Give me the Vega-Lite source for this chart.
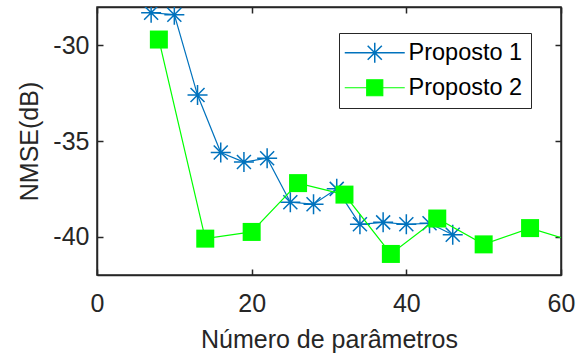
{
  "$schema": "https://vega.github.io/schema/vega-lite/v6.json",
  "width": 464,
  "height": 268,
  "autosize": "none",
  "padding": {"left": 97, "top": 7, "right": 21, "bottom": 81},
  "background": "white",
  "data": {
    "values": [
      {"series": "Proposto 1", "x": 7, "y": -28.3},
      {"series": "Proposto 1", "x": 10, "y": -28.4},
      {"series": "Proposto 1", "x": 13, "y": -32.6},
      {"series": "Proposto 1", "x": 16, "y": -35.6},
      {"series": "Proposto 1", "x": 19, "y": -36.1},
      {"series": "Proposto 1", "x": 22, "y": -35.9},
      {"series": "Proposto 1", "x": 25, "y": -38.2},
      {"series": "Proposto 1", "x": 28, "y": -38.3},
      {"series": "Proposto 1", "x": 31, "y": -37.5},
      {"series": "Proposto 1", "x": 34, "y": -39.35},
      {"series": "Proposto 1", "x": 37, "y": -39.25},
      {"series": "Proposto 1", "x": 40, "y": -39.35},
      {"series": "Proposto 1", "x": 43, "y": -39.3},
      {"series": "Proposto 1", "x": 46, "y": -39.9},
      {"series": "Proposto 2", "x": 8, "y": -29.7},
      {"series": "Proposto 2", "x": 14, "y": -40.1},
      {"series": "Proposto 2", "x": 20, "y": -39.75},
      {"series": "Proposto 2", "x": 26, "y": -37.2},
      {"series": "Proposto 2", "x": 32, "y": -37.8},
      {"series": "Proposto 2", "x": 38, "y": -40.9},
      {"series": "Proposto 2", "x": 44, "y": -39.05},
      {"series": "Proposto 2", "x": 50, "y": -40.4},
      {"series": "Proposto 2", "x": 56, "y": -39.55},
      {"series": "Proposto 2", "x": 62, "y": -40.3}
    ]
  },
  "layer": [
    {
      "transform": [{"filter": "datum.series === 'Proposto 1'"}],
      "mark": {"type": "line", "strokeWidth": 1.2, "clip": true},
      "encoding": {
        "x": {"field": "x", "type": "quantitative", "scale": {"domain": [0, 60], "nice": false},
              "axis": {"orient": "bottom", "values": [0, 20, 40, 60], "labelFlush": false, "labelExpr": "'' + datum.value", "title": "Número de parâmetros", "labelPadding": 22, "titlePadding": 11}},
        "y": {"field": "y", "type": "quantitative", "scale": {"domain": [-42, -28], "nice": false, "zero": false},
              "axis": {"orient": "left", "values": [-40, -35, -30], "labelFlush": false, "labelExpr": "'' + datum.value", "title": "NMSE(dB)", "labelPadding": 14, "titlePadding": 10}},
        "color": {"field": "series", "type": "nominal",
                  "scale": {"domain": ["Proposto 1", "Proposto 2"], "range": ["#0072BD", "#00FF00"]},
                  "legend": {
                    "title": null, "orient": "none", "legendX": 242, "legendY": 26,
                    "strokeColor": "#262626", "fillColor": "white", "padding": 8,
                    "symbolSize": 400, "symbolOffset": 16, "labelOffset": 22,
                    "labelFontSize": 23.5, "labelFont": "Liberation Sans", "labelColor": "black",
                    "rowPadding": 9, "symbolStrokeWidth": 1.3,
                    "encode": {
                      "symbols": {
                        "update": {
                          "size": {"value": 3600},
                          "shape": {"signal": "datum.value === 'Proposto 1' ? 'M-1,0L1,0M0,-0.333L0,0.333M-0.236,-0.236L0.236,0.236M-0.236,0.236L0.236,-0.236' : 'M-1,0L1,0M-0.267,-0.267L0.267,-0.267L0.267,0.267L-0.267,0.267Z'"},
                          "fill": {"signal": "datum.value === 'Proposto 1' ? 'transparent' : '#00FF00'"},
                          "stroke": {"signal": "datum.value === 'Proposto 1' ? '#0072BD' : '#00FF00'"},
                          "fillOpacity": {"value": 1},
                          "strokeWidth": {"signal": "datum.value === 'Proposto 1' ? 1.5 : 1.2"}
                        }
                      }
                    }
                  }}
      }
    },
    {
      "transform": [{"filter": "datum.series === 'Proposto 1'"}],
      "mark": {"type": "point", "shape": "M-1,0L1,0M0,-1L0,1M-0.7,-0.7L0.7,0.7M-0.7,0.7L0.7,-0.7", "size": 400, "filled": false, "color": "#0072BD", "strokeWidth": 1.5, "opacity": 1, "clip": true},
      "encoding": {
        "x": {"field": "x", "type": "quantitative", "axis": {"orient": "top", "values": [0, 20, 40, 60], "labels": false, "title": null}},
        "y": {"field": "y", "type": "quantitative", "axis": {"orient": "right", "values": [-40, -35, -30], "labels": false, "title": null}}
      }
    },
    {
      "transform": [{"filter": "datum.series === 'Proposto 2'"}],
      "mark": {"type": "line", "strokeWidth": 1.2, "clip": true},
      "encoding": {
        "x": {"field": "x", "type": "quantitative", "axis": null},
        "y": {"field": "y", "type": "quantitative", "axis": null},
        "color": {"field": "series", "type": "nominal"}
      }
    },
    {
      "transform": [{"filter": "datum.series === 'Proposto 2'"}],
      "mark": {"type": "point", "shape": "square", "size": 324, "filled": true, "color": "#00FF00", "opacity": 1, "clip": true},
      "encoding": {
        "x": {"field": "x", "type": "quantitative", "axis": null},
        "y": {"field": "y", "type": "quantitative", "axis": null}
      }
    }
  ],
  "resolve": {"axis": {"x": "independent", "y": "independent"}},
  "config": {
    "view": {"stroke": "#262626", "strokeWidth": 1.5},
    "axis": {
      "grid": false,
      "domainColor": "#262626", "domainWidth": 1.5,
      "tickColor": "#262626", "tickWidth": 1.5, "tickSize": -6,
      "labelFont": "Liberation Sans", "labelFontSize": 25, "labelColor": "#262626",
      "titleFont": "Liberation Sans", "titleFontSize": 25, "titleFontWeight": "normal", "titleColor": "#262626"
    }
  }
}
